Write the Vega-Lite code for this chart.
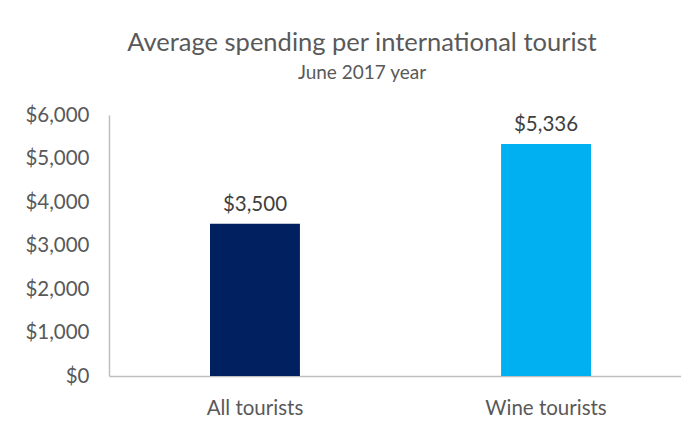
{
  "$schema": "https://vega.github.io/schema/vega-lite/v6.json",
  "autosize": {"type": "none"},
  "width": 572,
  "height": 261,
  "padding": {"left": 109, "top": 115, "right": 0, "bottom": 49},
  "background": "white",
  "config": {"view": {"stroke": null}, "font": "Lato"},
  "title": {
    "text": "Average spending per international tourist",
    "subtitle": "June 2017 year",
    "anchor": "middle",
    "frame": "group",
    "dx": -33,
    "offset": 22,
    "fontSize": 25.5,
    "fontWeight": "normal",
    "color": "#595959",
    "subtitleFontSize": 19,
    "subtitleColor": "#595959",
    "subtitlePadding": 8,
    "font": "Lato",
    "subtitleFont": "Lato"
  },
  "data": {
    "values": [
      {"group": "All tourists", "spend": 3500},
      {"group": "Wine tourists", "spend": 5336}
    ]
  },
  "encoding": {
    "x": {
      "field": "group",
      "type": "nominal",
      "sort": null,
      "scale": {"range": [0, 583], "paddingInner": 0.691, "paddingOuter": 0.347},
      "axis": {
        "title": null,
        "labelAngle": 0,
        "labelFontSize": 20.5,
        "labelColor": "#595959",
        "labelFont": "Lato",
        "ticks": false,
        "tickSize": 0,
        "labelPadding": 22,
        "domainColor": "#BFBFBF",
        "domainWidth": 1.5
      }
    },
    "y": {
      "field": "spend",
      "type": "quantitative",
      "scale": {"domain": [0, 6000], "nice": false},
      "axis": {
        "title": null,
        "values": [0, 1000, 2000, 3000, 4000, 5000, 6000],
        "format": "$,.0f",
        "grid": false,
        "ticks": false,
        "tickSize": 0,
        "labelPadding": 20,
        "labelFontSize": 20.5,
        "labelColor": "#595959",
        "labelFont": "Lato",
        "domainColor": "#BFBFBF",
        "domainWidth": 1.5
      }
    }
  },
  "layer": [
    {
      "mark": {"type": "bar"},
      "encoding": {
        "color": {
          "field": "group",
          "type": "nominal",
          "scale": {"domain": ["All tourists", "Wine tourists"], "range": ["#002060", "#00B0F0"]},
          "legend": null
        }
      }
    },
    {
      "mark": {"type": "text", "baseline": "bottom", "dy": -9, "fontSize": 20.5, "color": "#404040", "font": "Lato"},
      "encoding": {
        "text": {"field": "spend", "type": "quantitative", "format": "$,.0f"}
      }
    }
  ]
}
